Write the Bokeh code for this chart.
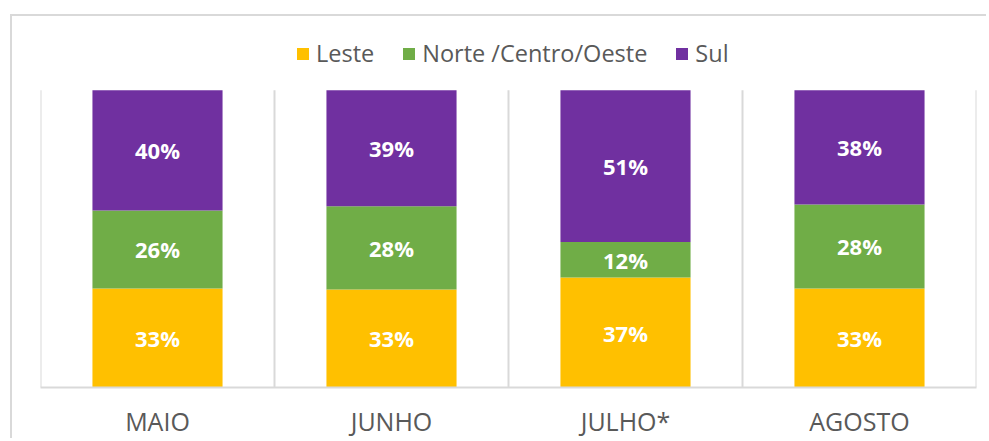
from bokeh.plotting import figure
from bokeh.models import ColumnDataSource, LabelSet, Legend, LegendItem, Range1d, FixedTicker
from bokeh.core.properties import value
from bokeh.embed import file_html
from bokeh.resources import INLINE

months = ["MAIO", "JUNHO", "JULHO*", "AGOSTO"]
leste = [33, 33, 37, 33]
norte = [26, 28, 12, 28]
sul = [40, 39, 51, 38]
series_names = ["Leste", "Norte /Centro/Oeste", "Sul"]
colors = ["#FFC000", "#70AD47", "#7030A0"]

FONT = "Open Sans"
GRID = "#D9D9D9"

xpos = [i + 0.5 for i in range(len(months))]
totals = [a + b + c for a, b, c in zip(leste, norte, sul)]
fl = [a / t for a, t in zip(leste, totals)]
fn = [b / t for b, t in zip(norte, totals)]
fs = [c / t for c, t in zip(sul, totals)]

src = ColumnDataSource(dict(
    x=xpos, Leste=fl, Norte=fn, Sul=fs,
    l_lab=[f"{v}%" for v in leste], n_lab=[f"{v}%" for v in norte], s_lab=[f"{v}%" for v in sul],
    l_mid=[a / 2 for a in fl],
    n_mid=[a + b / 2 for a, b in zip(fl, fn)],
    s_mid=[a + b + c / 2 for a, b, c in zip(fl, fn, fs)],
))

p = figure(x_range=Range1d(0, len(months)), y_range=Range1d(0, 358 / 298),
           width=976, height=424, output_backend="svg", toolbar_location=None,
           min_border_left=28, min_border_right=12, min_border_top=14, min_border_bottom=52,
           margin=(14, 0, 0, 10))
p.styles = {"border-left": f"2px solid {GRID}", "border-top": f"2px solid {GRID}"}

r = p.vbar_stack(["Leste", "Norte", "Sul"], x="x", width=0.556, source=src,
                 color=colors, line_color=None)

for col, ycol in [("l_lab", "l_mid"), ("n_lab", "n_mid"), ("s_lab", "s_mid")]:
    p.add_layout(LabelSet(x="x", y=ycol, text=col, source=src, text_align="center",
                          text_baseline="middle", text_color="white", text_font=value(FONT),
                          text_font_style="bold", text_font_size="22px"))

bounds = list(range(len(months) + 1))
p.segment(x0=bounds, y0=[0] * len(bounds), x1=bounds, y1=[1] * len(bounds),
          line_color=GRID, line_width=2)

p.yaxis.visible = False
p.xgrid.grid_line_color = None
p.ygrid.grid_line_color = None
p.outline_line_color = None
p.xaxis.ticker = FixedTicker(ticks=xpos)
p.xaxis.major_label_overrides = {x: m for x, m in zip(xpos, months)}
p.xaxis.axis_line_color = GRID
p.xaxis.axis_line_width = 2
p.xaxis.major_tick_line_color = None
p.xaxis.minor_tick_line_color = None
p.xaxis.major_label_text_font = FONT
p.xaxis.major_label_text_font_size = "25px"
p.xaxis.major_label_text_color = "#595959"
p.xaxis.major_label_standoff = 10

legend = Legend(items=[LegendItem(label=n, renderers=[rr]) for n, rr in zip(series_names, r)],
                orientation="horizontal", location=(255, 318), border_line_color=None,
                background_fill_alpha=0, label_text_font=FONT, label_text_font_size="23.5px",
                label_text_color="#595959", glyph_width=15, glyph_height=15,
                label_standoff=6, spacing=27, padding=0, margin=0)
p.add_layout(legend, "center")

open("out.html", "w").write(file_html(p, INLINE))
